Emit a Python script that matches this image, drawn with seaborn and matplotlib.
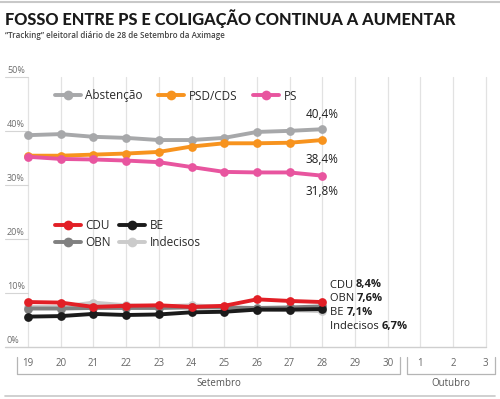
import numpy as np
import pandas as pd
import seaborn as sns
import matplotlib.pyplot as plt
from matplotlib.lines import Line2D

# %%
# data
days = ["19", "20", "21", "22", "23", "24", "25", "26", "27", "28"]
axis_days = days + ["29", "30", "1", "2", "3"]

abstencao = [39.3, 39.5, 39.0, 38.8, 38.4, 38.4, 38.8, 39.9, 40.1, 40.4]
psd_cds = [35.5, 35.5, 35.7, 35.9, 36.2, 37.2, 37.8, 37.8, 37.9, 38.4]
ps = [35.3, 34.9, 34.8, 34.6, 34.3, 33.4, 32.5, 32.4, 32.4, 31.8]
cdu = [8.4, 8.3, 7.5, 7.7, 7.8, 7.5, 7.7, 8.9, 8.6, 8.4]
be = [5.7, 5.8, 6.2, 6.0, 6.1, 6.5, 6.6, 7.0, 7.0, 7.1]
obn = [7.2, 7.2, 7.3, 7.3, 7.3, 7.4, 7.4, 7.3, 7.4, 7.6]
indecisos = [7.5, 7.5, 8.3, 7.8, 7.6, 7.8, 7.5, 7.0, 6.9, 6.7]

y_ticks = [0, 10, 20, 30, 40, 50]

series = {
    "Indecisos": indecisos,
    "OBN": obn,
    "BE": be,
    "CDU": cdu,
    "Abstenção": abstencao,
    "PSD/CDS": psd_cds,
    "PS": ps,
}
colors = {
    "Abstenção": "#a7a8aa",
    "PSD/CDS": "#f7931e",
    "PS": "#e8559f",
    "CDU": "#e21f26",
    "BE": "#1b1b1b",
    "OBN": "#808080",
    "Indecisos": "#cbcbcb",
}

df = pd.concat(
    [pd.DataFrame({"pos": np.arange(len(v)), "valor": v, "serie": k}) for k, v in series.items()]
)

# %%
sns.set_theme(style="white")
plt.rcParams["font.family"] = ["Open Sans", "DejaVu Sans"]

W, H = 500, 399
fig = plt.figure(figsize=(W / 100, H / 100), dpi=100)
ax = fig.add_axes([0, 0, 1, 1])

# pixel geometry of the reference
x0_px, dx_px = 28, 32.7
y0_px, dy_px = 347.4, 5.4
ax.set_xlim(-x0_px / dx_px, (W - x0_px) / dx_px)
ax.set_ylim((y0_px - H) / dy_px, y0_px / dy_px)
ax.axis("off")


def px_x(p):
    return (p - x0_px) / dx_px


def px_y(p):
    return (y0_px - p) / dy_px


# vertical gridlines and baseline
for i in range(len(axis_days)):
    ax.plot([i, i], [0, 50], color="#e2e2e2", lw=0.9, zorder=0)
ax.plot([px_x(5), len(axis_days) - 1], [0, 0], color="#cfcfcf", lw=1.0, zorder=0)

# y tick stubs + labels
for t in y_ticks:
    if t > 0:
        ax.plot([px_x(5), 0], [t, t], color="#d5d5d5", lw=0.8, zorder=0)
    ax.text(px_x(7), t + 0.4, f"{t}%", fontsize=6.5, color="#6d6d6d", ha="left", va="bottom")

# x tick labels
for i, d in enumerate(axis_days):
    ax.text(i, px_y(364), d, fontsize=7, color="#666666", ha="center", va="center")

# month brackets
br_top, br_bot = px_y(357), px_y(374)
for a, b, name in [(17, 400, "Setembro"), (407, 495, "Outubro")]:
    ax.plot([px_x(a), px_x(a), px_x(b), px_x(b)], [br_top, br_bot, br_bot, br_top],
            color="#b5b5b5", lw=0.9)
    ax.text(px_x((a + b) / 2 + (10 if name == "Setembro" else 0)), px_y(384), name,
            fontsize=7, color="#555555", ha="center", va="center")

# lines
sns.lineplot(data=df, x="pos", y="valor", hue="serie", palette=colors,
             hue_order=list(series.keys()), marker="o", markersize=6.3,
             markeredgewidth=0, linewidth=2.8, legend=False, ax=ax, zorder=3)

# end labels for top series
last = len(days) - 1
ax.text(last, abstencao[-1] + 1.6, "40,4%", fontsize=8.5, color="#1e1e1e", ha="center", va="bottom")
ax.text(last, psd_cds[-1] - 2.4, "38,4%", fontsize=8.5, color="#1e1e1e", ha="center", va="top")
ax.text(last, ps[-1] - 1.7, "31,8%", fontsize=8.5, color="#1e1e1e", ha="center", va="top")

# end labels for small parties
end_labels = [("CDU ", cdu[-1]), ("OBN ", obn[-1]), ("BE ", be[-1]), ("Indecisos ", indecisos[-1])]
for k, (name, v) in enumerate(end_labels):
    t = ax.text(px_x(330), px_y(285 + k * 13.7), name, fontsize=8, color="#1e1e1e",
                ha="left", va="center")
    ax.annotate(f"{v:.1f}%".replace(".", ","), xy=(1, 0.5), xycoords=t, fontsize=8,
                fontweight="bold", color="#1e1e1e", ha="left", va="center")

# legends
def handle(name):
    return Line2D([], [], color=colors[name], lw=2.8, marker="o", markersize=7, markeredgewidth=0)


top_names = ["Abstenção", "PSD/CDS", "PS"]
leg1 = ax.legend([handle(n) for n in top_names], top_names, ncol=3, frameon=False,
                 loc="center left", bbox_to_anchor=(44 / W, 1 - 96 / H),
                 fontsize=8.5, handlelength=2.2, handletextpad=0.4, columnspacing=1.3,
                 labelcolor="#2a2a2a")
ax.add_artist(leg1)

low_names = ["CDU", "OBN", "BE", "Indecisos"]
ax.legend([handle(n) for n in low_names], low_names, ncol=2, frameon=False,
          loc="center left", bbox_to_anchor=(44 / W, 1 - 234 / H),
          fontsize=8.5, handlelength=2.2, handletextpad=0.4, columnspacing=0.7,
          labelspacing=0.35, labelcolor="#2a2a2a")

# title, subtitle and rules
fig.text(5 / W, 1 - 25 / H, "FOSSO ENTRE PS E COLIGAÇÃO CONTINUA A AUMENTAR",
         fontsize=11.8, fontweight=900, family=["Lato", "DejaVu Sans"],
         color="#1a1a1a", ha="left", va="baseline")
fig.text(5 / W, 1 - 36 / H, "“Tracking” eleitoral diário de 28 de Setembro da Aximage",
         fontsize=5.8, fontweight="semibold", color="#444444", ha="left", va="center")
ax.plot([px_x(0), px_x(500)], [px_y(2), px_y(2)], color="#c8c8c8", lw=1.5)
ax.plot([px_x(5), px_x(495)], [px_y(396), px_y(396)], color="#c8c8c8", lw=1.2)

fig.savefig("out.png", dpi=100)
